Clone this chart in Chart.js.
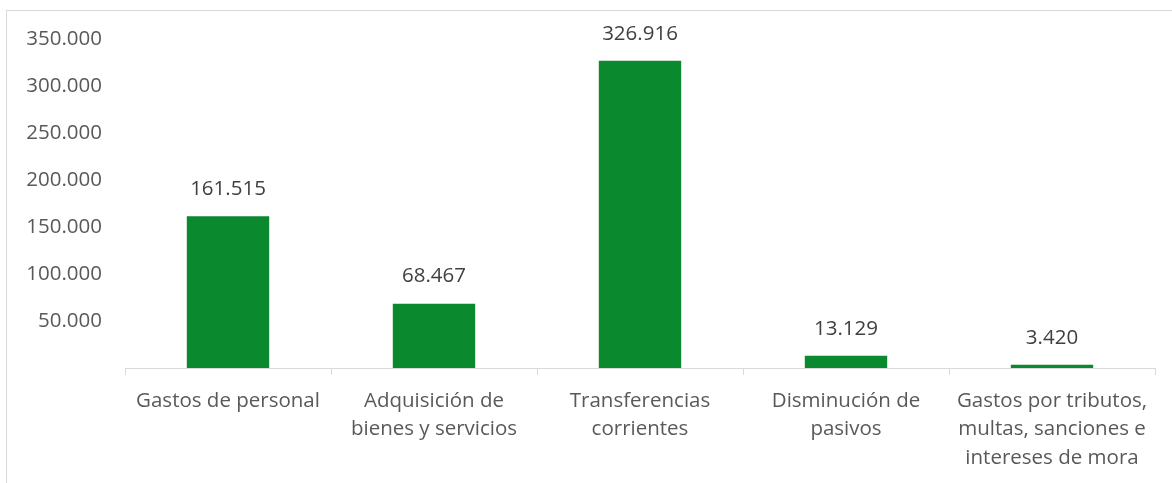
<!DOCTYPE html>
<html>
<head>
<meta charset="utf-8">
<script src="https://cdn.jsdelivr.net/npm/chart.js@4/dist/chart.umd.min.js"></script>
<style>
  body { margin: 0; background: #fff; }
  #wrap { position: absolute; left: 0; top: 0; width: 1172px; height: 483px; }
  #frame { position: absolute; left: 6px; top: 10px; width: 1180px; height: 500px; border: 1px solid #d9d9d9; }
</style>
</head>
<body>
<div id="frame"></div>
<div id="wrap"><canvas id="gastos-chart" width="1172" height="483"></canvas></div>
<script>
// categorias y valores (millones)
const categories = [
    'Gastos de personal',
    ['Adquisición de', 'bienes y servicios'],
    ['Transferencias', 'corrientes'],
    ['Disminución de', 'pasivos'],
    ['Gastos por tributos,', 'multas, sanciones e', 'intereses de mora']
];
const values = [161515, 68467, 326916, 13129, 3420];
const yTicks = [0, 50000, 100000, 150000, 200000, 250000, 300000, 350000];

const FONT = '"Open Sans", sans-serif';

function fmt(v) {
    return String(v).replace(/\B(?=(\d{3})+(?!\d))/g, '.');
}

// etiquetas encima de cada barra
const barLabels = {
    id: 'barLabels',
    afterDatasetsDraw(chart) {
        const ctx = chart.ctx;
        const meta = chart.getDatasetMeta(0);
        ctx.save();
        ctx.font = '20.5px ' + FONT;
        ctx.fillStyle = '#404040';
        ctx.textAlign = 'center';
        ctx.textBaseline = 'middle';
        meta.data.forEach((bar, i) => {
            ctx.fillText(fmt(values[i]), bar.x, bar.y - 27);
        });
        ctx.restore();
    }
};

const config = {
    type: 'bar',
    data: {
        labels: categories,
        datasets: [{
            data: values,
            backgroundColor: '#0a892f',
            borderWidth: 0,
            categoryPercentage: 1,
            barPercentage: 0.4
        }]
    },
    options: {
        responsive: false,
        animation: false,
        layout: { padding: { left: 0, right: 17, top: 39, bottom: 0 } },
        plugins: {
            legend: { display: false },
            tooltip: { enabled: false }
        },
        scales: {
            x: {
                grid: {
                    offset: true,
                    drawOnChartArea: false,
                    drawTicks: true,
                    tickLength: 7,
                    color: '#d9d9d9'
                },
                border: { color: '#d9d9d9', width: 1 },
                ticks: {
                    color: '#595959',
                    font: { family: FONT, size: 20.5, lineHeight: 1.38 },
                    padding: 12,
                    maxRotation: 0,
                    autoSkip: false
                },
                afterFit(scale) { scale.height = 115; }
            },
            y: {
                min: 0,
                max: 350000,
                afterBuildTicks(scale) {
                    scale.ticks = yTicks.map(v => ({ value: v }));
                },
                grid: { display: false, drawTicks: false },
                border: { display: false },
                ticks: {
                    color: '#595959',
                    font: { family: FONT, size: 20.5 },
                    padding: 23,
                    callback: v => v === 0 ? '' : fmt(v)
                },
                afterFit(scale) { scale.width = 125; }
            }
        }
    },
    plugins: [barLabels]
};

const ctx = document.getElementById('gastos-chart').getContext('2d');
const gastos_chart = new Chart(ctx, config);
</script>
</body>
</html>
